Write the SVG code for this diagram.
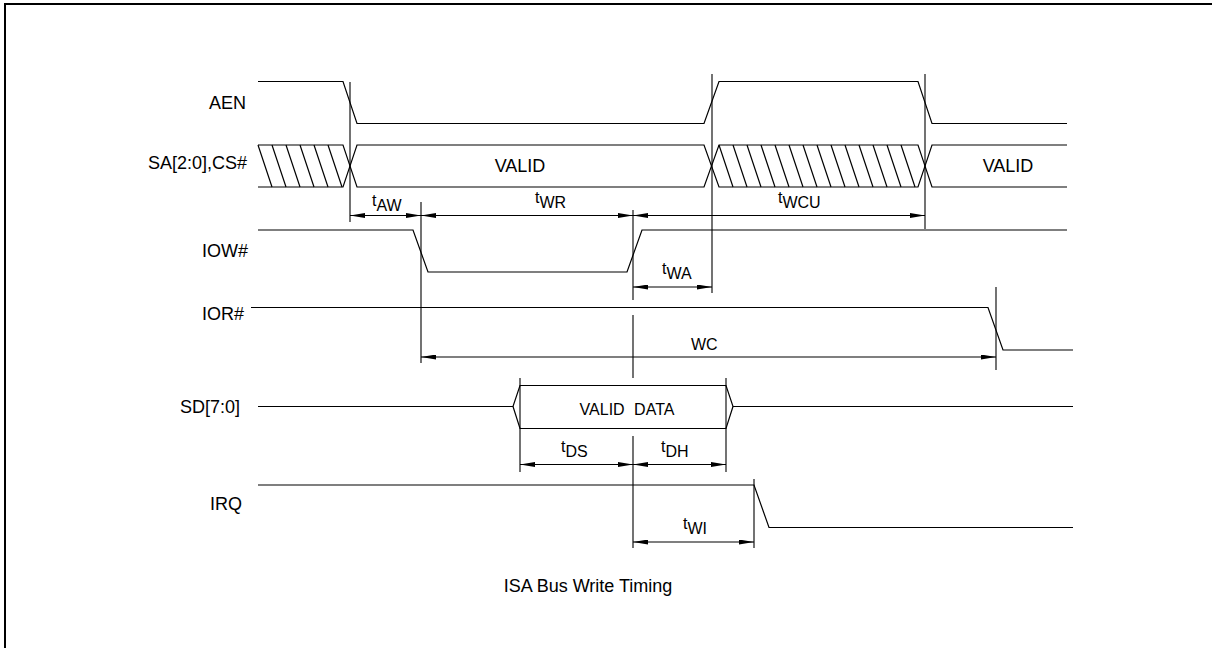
<svg xmlns="http://www.w3.org/2000/svg" width="1212" height="648" viewBox="0 0 1212 648">
<style>
.sig{fill:none;stroke:#000;stroke-width:1.2}
.ref{fill:none;stroke:#000;stroke-width:1.1}
.dim{fill:none;stroke:#000;stroke-width:1.1;marker-start:url(#ah);marker-end:url(#ah)}
.lbl{font-family:"Liberation Sans",Arial,sans-serif;font-size:18px;fill:#000}
.tl{font-family:"Liberation Sans",Arial,sans-serif;font-size:16px;fill:#000}
</style>
<defs>
<marker id="ah" viewBox="0 0 15 5" refX="15" refY="2.5" markerWidth="15" markerHeight="5" markerUnits="userSpaceOnUse" orient="auto-start-reverse">
<path d="M0,0 L15,2.5 L0,5 z" fill="#000"/>
</marker>
</defs>
<rect x="0" y="0" width="1212" height="648" fill="#fff"/>
<path d="M5,648 V4 H1212" fill="none" stroke="#000" stroke-width="2"/>

<g id="AEN">
<text class="lbl" x="209" y="109">AEN</text>
<path class="sig" d="M258,81.5 H343 L357,123.5 H704 L719,81.5 H918 L932,123.5 H1067"/>
</g>

<g id="SA">
<text class="lbl" x="148" y="169">SA[2:0],CS#</text>
<path class="sig" d="M258,145 H343 L357,187 H704 L719,145 H918 L932,187 H1067"/>
<path class="sig" d="M258,187 H343 L357,145 H704 L719,187 H918 L932,145 H1067"/>
<path class="sig" d="M258,145 l14,42 M272,145 l14,42 M286,145 l14,42 M300,145 l14,42 M314,145 l14,42 M328,145 l14,42"/>
<path class="sig" d="M719,145 l14,42 M733,145 l14,42 M747,145 l14,42 M761,145 l14,42 M775,145 l14,42 M789,145 l14,42 M803,145 l14,42 M817,145 l14,42 M831,145 l14,42 M845,145 l14,42 M859,145 l14,42 M873,145 l14,42 M887,145 l14,42 M901,145 l14,42"/>
<text class="lbl" x="520" y="172" text-anchor="middle">VALID</text>
<text class="lbl" x="1008" y="172" text-anchor="middle">VALID</text>
</g>

<g id="IOW">
<text class="lbl" x="202" y="257">IOW#</text>
<path class="sig" d="M258,230 H413 L428,272 H627 L642,230 H1067"/>
</g>

<g id="IOR">
<text class="lbl" x="202" y="320">IOR#</text>
<path class="sig" d="M251,307.5 H988 L1003,350 H1073"/>
</g>

<g id="SD">
<text class="lbl" x="180" y="413">SD[7:0]</text>
<path class="sig" d="M258,406.5 H513 L520,385.5 H726 L733,406.5 H1073"/>
<path class="sig" d="M513,406.5 L520,428.5 H726 L733,406.5"/>
<text class="tl" x="627" y="415" text-anchor="middle" word-spacing="5">VALID DATA</text>
</g>

<g id="IRQ">
<text class="lbl" x="210" y="510">IRQ</text>
<path class="sig" d="M258,485 H754 L769,527.5 H1073"/>
</g>

<g id="connectors">
<path class="ref" d="M350,82 V222 M421,202 V363 M633,210 V300 M633,315 V378 M633,436 V548 M712,74 V293 M925,74 V229 M996,287 V370 M520,378 V472 M726,378 V472 M754,479 V548"/>
<path class="dim" d="M350,215.5 H421"/>
<path class="dim" d="M421,215.5 H633"/>
<path class="dim" d="M633,215.5 H925"/>
<path class="dim" d="M633,287 H712"/>
<path class="dim" d="M421,357 H996"/>
<path class="dim" d="M520,464.5 H633"/>
<path class="dim" d="M633,464.5 H726"/>
<path class="dim" d="M633,542 H754"/>
<text class="tl" x="372" y="206">t<tspan dy="5">AW</tspan></text>
<text class="tl" x="535" y="203">t<tspan dy="5">WR</tspan></text>
<text class="tl" x="778" y="203">t<tspan dy="5">WCU</tspan></text>
<text class="tl" x="662" y="274">t<tspan dy="5">WA</tspan></text>
<text class="tl" x="691" y="350">WC</text>
<text class="tl" x="561" y="452">t<tspan dy="5">DS</tspan></text>
<text class="tl" x="661" y="452">t<tspan dy="5">DH</tspan></text>
<text class="tl" x="683" y="529">t<tspan dy="5">WI</tspan></text>
</g>

<text class="lbl" x="588" y="592" text-anchor="middle">ISA Bus Write Timing</text>
</svg>
